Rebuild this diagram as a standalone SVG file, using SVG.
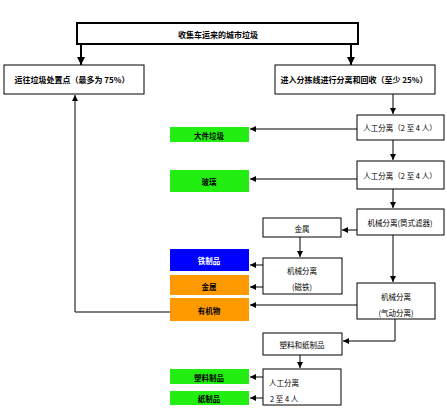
<svg xmlns="http://www.w3.org/2000/svg" width="447" height="409" viewBox="0 0 447 409">
<defs>
<marker id="ah" viewBox="0 0 10 10" refX="10" refY="5" markerWidth="6" markerHeight="6" markerUnits="userSpaceOnUse" orient="auto"><path d="M0,0 L10,5 L0,10 z" fill="#000"/></marker>
<marker id="ahb" viewBox="0 0 10 10" refX="10" refY="5" markerWidth="8" markerHeight="8" markerUnits="userSpaceOnUse" orient="auto"><path d="M0,0 L10,5 L0,10 z" fill="#000"/></marker>
</defs>
<style>
.b{fill:#fff;stroke:#000;stroke-width:1}
.bt{fill:#fff;stroke:#000;stroke-width:2}
.g{fill:#22ee11}
.bl{fill:#0000ff}
.o{fill:#ff9900}
text{font-family:"Noto Sans CJK SC","Noto Sans",sans-serif;font-size:7.5px;fill:#000;text-anchor:middle;dominant-baseline:central}
.bd{font-weight:bold}
.w{fill:#fff}
.s{text-anchor:start}
.c line,.c path{stroke:#000;stroke-width:1;fill:none;marker-end:url(#ah)}
.c .t{stroke-width:2;marker-end:url(#ahb)}
</style>
<rect width="447" height="409" fill="#fff"/>
<g class="c" id="connectors">
<line class="t" x1="81" y1="44" x2="81" y2="65"/>
<line class="t" x1="351" y1="44" x2="351" y2="65"/>
<path d="M170,312 H75 V95"/>
<line x1="393" y1="94" x2="393" y2="114"/>
<line x1="357" y1="129" x2="250" y2="129"/>
<line x1="393" y1="140" x2="393" y2="160"/>
<line x1="357" y1="179" x2="250" y2="179"/>
<line x1="393" y1="189" x2="393" y2="208"/>
<line x1="357" y1="230" x2="342" y2="230"/>
<line x1="300" y1="237" x2="300" y2="257"/>
<line x1="263" y1="265" x2="250" y2="265"/>
<line x1="263" y1="287" x2="250" y2="287"/>
<line x1="393" y1="235" x2="393" y2="282"/>
<line x1="357" y1="305" x2="250" y2="305"/>
<path d="M395,319 V341 H343"/>
<line x1="300" y1="355" x2="300" y2="368"/>
<line x1="263" y1="377" x2="250" y2="377"/>
<line x1="263" y1="398" x2="250" y2="398"/>
</g>
<g id="top"><rect class="bt" x="77" y="23" width="281" height="21"/><text class="bd" x="218" y="34" style="font-size:8px">收集车运来的城市垃圾</text></g>
<g id="left"><rect class="b" x="4" y="65" width="140" height="29"/><text class="bd" x="72" y="79" style="font-size:8px">运往垃圾处置点（最多为 75%）</text></g>
<g id="right"><rect class="b" x="275" y="65" width="160" height="29"/><text class="bd" x="354" y="79" style="font-size:8px">进入分拣线进行分离和回收（至少 25%）</text></g>
<g id="manual1"><rect class="b" x="357" y="115" width="87" height="25"/><text x="400" y="127">人工分离（2 至 4 人）</text></g>
<g id="bulky"><rect class="g" x="170" y="127" width="79" height="15"/><text class="bd" x="209" y="135">大件垃圾</text></g>
<g id="manual2"><rect class="b" x="357" y="161" width="87" height="28"/><text x="400" y="175">人工分离（2 至 4 人）</text></g>
<g id="glass"><rect class="g" x="170" y="170" width="79" height="22"/><text class="bd" x="209" y="181">玻璃</text></g>
<g id="drum"><rect class="b" x="357" y="209" width="87" height="26"/><text x="400" y="222">机械分离(筒式滤器)</text></g>
<g id="metal1"><rect class="b" x="263" y="218" width="78" height="19"/><text x="302" y="228">金属</text></g>
<g id="magnet"><rect class="b" x="263" y="258" width="79" height="36"/><text x="302" y="270">机械分离</text><text x="302" y="286">(磁铁)</text></g>
<g id="iron"><rect class="bl" x="170" y="249" width="79" height="22"/><text class="bd w" x="209" y="260">铁制品</text></g>
<g id="metal2"><rect class="o" x="170" y="275" width="79" height="20"/><text class="bd" x="209" y="286">金属</text></g>
<g id="organic"><rect class="o" x="170" y="298" width="79" height="23"/><text class="bd" x="209" y="310">有机物</text></g>
<g id="air"><rect class="b" x="357" y="283" width="78" height="36"/><text x="396" y="296">机械分离</text><text x="396" y="312">(气动分离)</text></g>
<g id="plasticpaper"><rect class="b" x="263" y="333" width="79" height="22"/><text x="302" y="344">塑料和纸制品</text></g>
<g id="manual3"><rect class="b" x="263" y="369" width="78" height="36"/><text class="s" x="269" y="382">人工分离</text><text class="s" x="270" y="398">2 至 4 人</text></g>
<g id="plastic"><rect class="g" x="170" y="369" width="79" height="15"/><text class="bd" x="209" y="377">塑料制品</text></g>
<g id="paper"><rect class="g" x="170" y="391" width="79" height="14"/><text class="bd" x="209" y="398">纸制品</text></g>
</svg>
